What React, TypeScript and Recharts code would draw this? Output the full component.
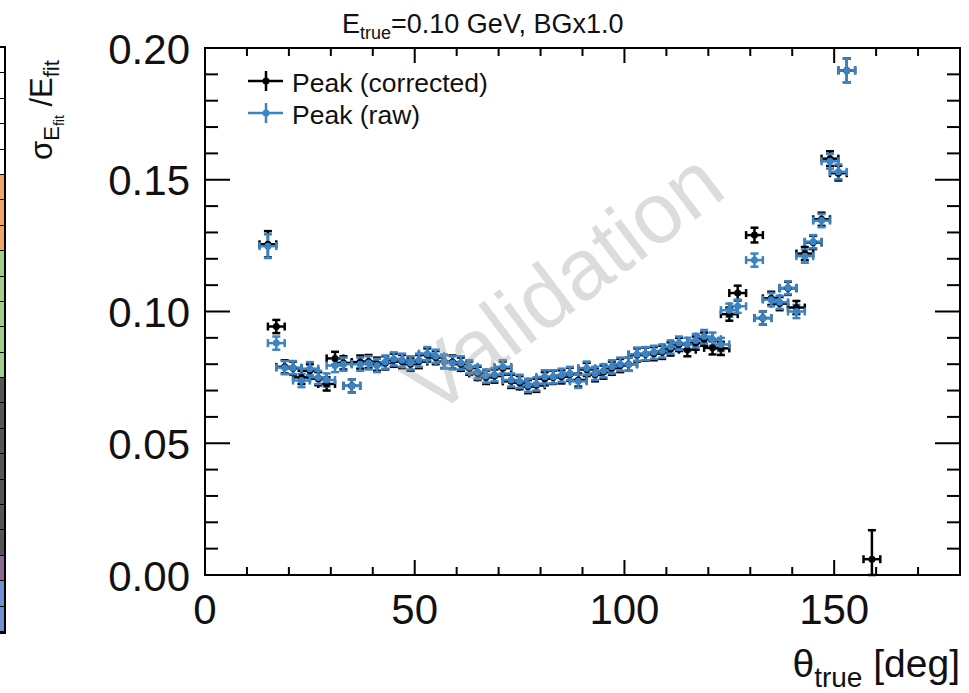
import { ScatterChart, Scatter, XAxis, YAxis, ErrorBar, ReferenceArea } from "recharts"

// bin centres (deg) and widths
const THETA = [
  15, 17, 19, 21, 23, 25, 27, 29, 31, 33, 35, 37, 39, 41, 43, 45, 47, 49, 51, 53,
  55, 57, 59, 61, 63, 65, 67, 69, 71, 73, 75, 77, 79, 81, 83, 85, 87, 89, 91, 93,
  95, 97, 99, 101, 103, 105, 107, 109, 111, 113, 115, 117, 119, 121, 123, 125, 127,
  131, 133, 135, 137, 139, 141, 143, 145, 147, 149, 151, 153, 159,
]
const THETA_ERR = 2

// Peak (raw)
const RAW = [
  0.1248, 0.088, 0.0787, 0.0787, 0.0738, 0.0783, 0.075, 0.074, 0.0795, 0.08,
  0.0718, 0.08, 0.0805, 0.0795, 0.0808, 0.082, 0.0815, 0.0805, 0.0815, 0.084,
  0.083, 0.081, 0.0805, 0.0805, 0.079, 0.077, 0.0755, 0.076, 0.079, 0.074,
  0.0735, 0.072, 0.0725, 0.0752, 0.0752, 0.0758, 0.0765, 0.0735, 0.0785, 0.0765,
  0.0775, 0.079, 0.08, 0.08, 0.0838, 0.084, 0.0845, 0.085, 0.0865, 0.088,
  0.0875, 0.089, 0.0905, 0.0895, 0.0875, 0.1005, 0.102,
  0.1195, 0.0975, 0.1045, 0.1035, 0.109, 0.1, 0.121, 0.1265, 0.1345, 0.157, 0.153, 0.1915,
  null,
]
const RAW_ERR = [
  0.0045, 0.0025, 0.0025, 0.0025, 0.0025, 0.0025, 0.0025, 0.0025, 0.0025, 0.0025,
  0.0025, 0.0025, 0.0025, 0.0025, 0.0025, 0.0025, 0.0025, 0.0025, 0.0025, 0.0025,
  0.0025, 0.0025, 0.0025, 0.0025, 0.0025, 0.0025, 0.0025, 0.0025, 0.0025, 0.0025,
  0.0025, 0.0025, 0.0025, 0.0025, 0.0025, 0.0025, 0.0025, 0.0025, 0.0025, 0.0025,
  0.0025, 0.0025, 0.0025, 0.0025, 0.0025, 0.0025, 0.0025, 0.0025, 0.0025, 0.0025,
  0.0025, 0.0025, 0.0025, 0.0025, 0.0025, 0.0025, 0.0025,
  0.0025, 0.0025, 0.0025, 0.0025, 0.0025, 0.0025, 0.0025, 0.0025, 0.0025, 0.0028, 0.0028, 0.0045,
  0,
]

// Peak (corrected)
const CORR = [
  0.1255, 0.0943, 0.079, 0.0785, 0.075, 0.0775, 0.0745, 0.0725, 0.0822, 0.0805,
  0.0718, 0.0808, 0.081, 0.08, 0.0805, 0.0815, 0.081, 0.08, 0.081, 0.0835,
  0.0825, 0.081, 0.0808, 0.08, 0.0785, 0.0765, 0.075, 0.0755, 0.0785, 0.0735,
  0.073, 0.0715, 0.072, 0.0745, 0.075, 0.0752, 0.0762, 0.074, 0.078, 0.076,
  0.077, 0.0785, 0.0795, 0.08, 0.0835, 0.0838, 0.084, 0.0845, 0.0858, 0.0875,
  0.0855, 0.088, 0.0895, 0.0862, 0.086, 0.099, 0.107,
  0.129, 0.0975, 0.105, 0.103, 0.1088, 0.1015, 0.122, 0.1262, 0.135, 0.158, 0.1525, 0.1915,
  0.006,
]
const CORR_ERR = [
  0.005, 0.0025, 0.0025, 0.0025, 0.0025, 0.0025, 0.0025, 0.0025, 0.0025, 0.0025,
  0.0025, 0.0025, 0.0025, 0.0025, 0.0025, 0.0025, 0.0025, 0.0025, 0.0025, 0.0025,
  0.0025, 0.0025, 0.0025, 0.0025, 0.0025, 0.0025, 0.0025, 0.0025, 0.0025, 0.0025,
  0.0025, 0.0025, 0.0025, 0.0025, 0.0025, 0.0025, 0.0025, 0.0025, 0.0025, 0.0025,
  0.0025, 0.0025, 0.0025, 0.0025, 0.0025, 0.0025, 0.0025, 0.0025, 0.0025, 0.0025,
  0.0025, 0.0025, 0.0025, 0.0025, 0.0025, 0.0025, 0.0028,
  0.0028, 0.0025, 0.0025, 0.0025, 0.0025, 0.0025, 0.0025, 0.0025, 0.0025, 0.0028, 0.0028, 0.0045,
  [0.006, 0.011],
]

const X_TICKS = [0, 10, 20, 30, 40, 50, 60, 70, 80, 90, 100, 110, 120, 130, 140, 150, 160, 170, 180]
const Y_TICKS = [
  0, 0.01, 0.02, 0.03, 0.04, 0.05, 0.06, 0.07, 0.08, 0.09, 0.1,
  0.11, 0.12, 0.13, 0.14, 0.15, 0.16, 0.17, 0.18, 0.19, 0.2,
]

// leftover colour strip from the neighbouring pad
const STRIP_CELLS = [
  "#fff", "#fff", "#fff", "#fff", "#fff",
  "#f2a468", "#f2a468", "#f2a468",
  "#9fcf8a", "#9fcf8a", "#9fcf8a", "#9fcf8a", "#9fcf8a",
  "#555", "#555", "#555", "#555", "#555", "#555", "#555",
  "#8c6a94", "#6f90d2", "#7090cf",
]

const W = 969
const H = 693
const PLOT_LEFT = 205
const PLOT_TOP = 48
const PLOT_RIGHT = 960
const PLOT_BOTTOM = 575
const PLOT_W = PLOT_RIGHT - PLOT_LEFT
const PLOT_H = PLOT_BOTTOM - PLOT_TOP
const Y_AXIS_W = 60
const X_AXIS_H = 30

const BLUE = "#3b83c3"
const BLACK = "#000"
const FONT = "'Liberation Sans', Arial, Helvetica, sans-serif"

const SERIES = [
  { name: "Peak (corrected)", color: BLACK },
  { name: "Peak (raw)", color: BLUE },
]

function buildSeries(values, errors) {
  const out = []
  THETA.forEach((t, i) => {
    if (values[i] == null) return
    out.push({ theta: t, value: values[i], ex: THETA_ERR, ey: errors[i] })
  })
  return out
}

const isMajor = (v, step) => Math.abs(v / step - Math.round(v / step)) < 1e-6

function XTick(props) {
  const { x, y, payload } = props
  const v = payload.value
  const major = isMajor(v, 50)
  const len = major ? 15 : 8
  return (
    <g>
      <line x1={x} x2={x} y1={y} y2={y - len} stroke="#000" strokeWidth={2} />
      <line x1={x} x2={x} y1={y - PLOT_H} y2={y - PLOT_H + len} stroke="#000" strokeWidth={2} />
      {major && v < 180 && (
        <text x={x} y={y + 49} textAnchor="middle" fontSize={42} fontFamily={FONT} fill="#111">
          {v}
        </text>
      )}
    </g>
  )
}

function YTick(props) {
  const { x, y, payload } = props
  const v = payload.value
  const major = isMajor(v, 0.05)
  const len = major ? 25 : 13
  return (
    <g>
      <line x1={x} x2={x + len} y1={y} y2={y} stroke="#000" strokeWidth={2} />
      <line x1={x + PLOT_W} x2={x + PLOT_W - len} y1={y} y2={y} stroke="#000" strokeWidth={2} />
      {major && (
        <text x={x - 15} y={y + 15.5} textAnchor="end" fontSize={42} fontFamily={FONT} fill="#111">
          {v.toFixed(2)}
        </text>
      )}
    </g>
  )
}

function dot(color) {
  return (p) => <circle cx={p.cx} cy={p.cy} r={3.5} fill={color} />
}

export default function App() {
  const corrected = buildSeries(CORR, CORR_ERR)
  const raw = buildSeries(RAW, RAW_ERR)

  return (
    <div style={{ position: "absolute", left: 0, top: 0, width: W, height: H, background: "#fff", fontFamily: FONT }}>
      {/* strip of the pad on the left */}
      <div style={{ position: "absolute", left: 0, top: 46, width: 4, borderRight: "2px solid #000", borderBottom: "2px solid #000", borderTop: "2px solid #000" }}>
        {STRIP_CELLS.map((c, i) => (
          <div key={i} style={{ height: 24.4, background: c, borderBottom: "1px solid #000" }} />
        ))}
      </div>

      <ScatterChart
        width={W}
        height={H}
        margin={{ top: PLOT_TOP, right: W - PLOT_RIGHT, left: PLOT_LEFT - Y_AXIS_W, bottom: H - PLOT_BOTTOM - X_AXIS_H }}
      >
        <XAxis
          type="number"
          dataKey="theta"
          domain={[0, 180]}
          ticks={X_TICKS}
          interval={0}
          height={X_AXIS_H}
          tickSize={0}
          tickMargin={0}
          tickLine={false}
          axisLine={false}
          tick={XTick}
        />
        <YAxis
          type="number"
          dataKey="value"
          domain={[0, 0.2]}
          ticks={Y_TICKS}
          interval={0}
          width={Y_AXIS_W}
          tickSize={0}
          tickMargin={0}
          tickLine={false}
          axisLine={false}
          tick={YTick}
        />
        <ReferenceArea x1={0} x2={180} y1={0} y2={0.2} fill="none" stroke="#000" strokeWidth={2} />
        <Scatter name={SERIES[0].name} data={corrected} fill={BLACK} shape={dot(BLACK)} isAnimationActive={false}>
          <ErrorBar dataKey="ex" direction="x" width={4} stroke={BLACK} strokeWidth={2.5} isAnimationActive={false} />
          <ErrorBar dataKey="ey" direction="y" width={4} stroke={BLACK} strokeWidth={2.5} isAnimationActive={false} />
        </Scatter>
        <Scatter name={SERIES[1].name} data={raw} fill={BLUE} shape={dot(BLUE)} isAnimationActive={false}>
          <ErrorBar dataKey="ex" direction="x" width={4} stroke={BLUE} strokeWidth={2.5} isAnimationActive={false} />
          <ErrorBar dataKey="ey" direction="y" width={4} stroke={BLUE} strokeWidth={2.5} isAnimationActive={false} />
        </Scatter>
      </ScatterChart>

      <svg width={W} height={H} style={{ position: "absolute", left: 0, top: 0, pointerEvents: "none" }}>
        {/* legend */}
        {SERIES.map((s, i) => {
          const cy = 81 + i * 32
          return (
            <g key={s.name}>
              <line x1={248} x2={283} y1={cy} y2={cy} stroke={s.color} strokeWidth={2.5} />
              <line x1={266} x2={266} y1={cy - 10} y2={cy + 10} stroke={s.color} strokeWidth={2.5} />
              <circle cx={266} cy={cy} r={3.5} fill={s.color} />
              <text x={292} y={cy + 10.5} fontSize={26.5} fontFamily={FONT} fill="#111">
                {s.name}
              </text>
            </g>
          )
        })}

        <text x={342} y={33} fontSize={27} fontFamily={FONT} fill="#111">
          E<tspan fontSize={18} dy={6}>true</tspan>
          <tspan dy={-6}>=0.10 GeV, BGx1.0</tspan>
        </text>

        <text transform="translate(52,110) rotate(-90)" textAnchor="middle" fontSize={31} fontFamily={FONT} fill="#111">
          σ<tspan fontSize={22} dy={7}>E</tspan>
          <tspan fontSize={14} dy={5}>fit</tspan>
          <tspan fontSize={31} dy={-12}> /E</tspan>
          <tspan fontSize={22} dy={7}>fit</tspan>
        </text>

        <text x={960} y={677} textAnchor="end" fontSize={39} fontFamily={FONT} fill="#111">
          θ<tspan fontSize={28} dy={10}>true</tspan>
          <tspan dy={-10}> [deg]</tspan>
        </text>

        <text
          transform="translate(567,288) rotate(-37)"
          textAnchor="middle"
          dominantBaseline="middle"
          fontSize={86}
          fontFamily={FONT}
          fill="#9a9a9a"
          fillOpacity={0.35}
        >
          Validation
        </text>
      </svg>
    </div>
  )
}
